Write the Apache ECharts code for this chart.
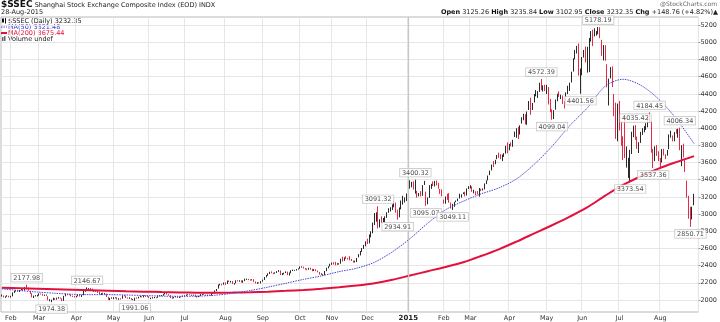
<!DOCTYPE html>
<html><head><meta charset="utf-8">
<script src="https://cdn.jsdelivr.net/npm/echarts@6/dist/echarts.min.js"></script>
<style>html,body{margin:0;padding:0;background:#fff}#c{width:720px;height:322px}</style>
</head><body><div id="c"></div>
<script>
// Trading days per month (categories)
const monthDays = [
 ['2014-01',[24,27,28,29,30]],
 ['2014-02',[7,10,11,12,13,14,17,18,19,20,21,24,25,26,27,28]],
 ['2014-03',[3,4,5,6,7,10,11,12,13,14,17,18,19,20,21,24,25,26,27,28,31]],
 ['2014-04',[1,2,3,4,8,9,10,11,14,15,16,17,18,21,22,23,24,25,28,29,30]],
 ['2014-05',[5,6,7,8,9,12,13,14,15,16,19,20,21,22,23,26,27,28,29,30]],
 ['2014-06',[3,4,5,6,9,10,11,12,13,16,17,18,19,20,23,24,25,26,27,30]],
 ['2014-07',[1,2,3,4,7,8,9,10,11,14,15,16,17,18,21,22,23,24,25,28,29,30,31]],
 ['2014-08',[1,4,5,6,7,8,11,12,13,14,15,18,19,20,21,22,25,26,27,28,29]],
 ['2014-09',[1,2,3,4,5,9,10,11,12,15,16,17,18,19,22,23,24,25,26,29,30]],
 ['2014-10',[8,9,10,13,14,15,16,17,20,21,22,23,24,27,28,29,30,31]],
 ['2014-11',[3,4,5,6,7,10,11,12,13,14,17,18,19,20,21,24,25,26,27,28]],
 ['2014-12',[1,2,3,4,5,8,9,10,11,12,15,16,17,18,19,22,23,24,25,26,29,30,31]],
 ['2015-01',[5,6,7,8,9,12,13,14,15,16,19,20,21,22,23,26,27,28,29,30]],
 ['2015-02',[2,3,4,5,6,9,10,11,12,13,16,17,25,26,27]],
 ['2015-03',[2,3,4,5,6,9,10,11,12,13,16,17,18,19,20,23,24,25,26,27,30,31]],
 ['2015-04',[1,2,3,7,8,9,10,13,14,15,16,17,20,21,22,23,24,27,28,29,30]],
 ['2015-05',[4,5,6,7,8,11,12,13,14,15,18,19,20,21,22,25,26,27,28,29]],
 ['2015-06',[1,2,3,4,5,8,9,10,11,12,15,16,17,18,19,23,24,25,26,29,30]],
 ['2015-07',[1,2,3,6,7,8,9,10,13,14,15,16,17,20,21,22,23,24,27,28,29,30,31]],
 ['2015-08',[3,4,5,6,7,10,11,12,13,14,17,18,19,20,21,24,25,26,27,28]]
];

// Daily candles: [open, close, low, high]
const candles = [
 // 2014-01
 [2051,2054,2040,2062],[2050,2033,2030,2052],[2030,2039,2025,2043],[2041,2050,2038,2056],[2046,2033,2031,2049],
 // 2014-02
 [2033,2044,2028,2048],[2044,2086,2042,2088],[2087,2103,2082,2108],[2104,2110,2098,2115],[2110,2100,2094,2113],[2096,2116,2093,2118],[2117,2135,2113,2138],[2133,2112,2109,2137],[2112,2143,2110,2150],[2146,2139,2124,2177.98],[2136,2113,2109,2145],[2105,2076,2071,2108],[2075,2034,2031,2079],[2030,2047,2023,2051],[2045,2047,2041,2057],[2042,2056,2040,2060],
 // 2014-03
 [2053,2075,2050,2077],[2072,2071,2064,2076],[2070,2053,2050,2072],[2052,2059,2047,2062],[2056,2057,2050,2063],[2043,1999,1996,2044],[1997,2001,1985,2009],[1996,1997,1974.38,2004],[2001,2019,1998,2027],[2014,2004,2000,2019],[2006,2024,2004,2027],[2024,2025,2016,2034],[2024,2021,2014,2029],[2016,1993,1987,2019],[1993,2047,1989,2048],[2046,2066,2042,2075],[2064,2063,2056,2070],[2062,2060,2055,2070],[2058,2046,2043,2063],[2043,2041,2034,2050],[2043,2033,2029,2048],
 // 2014-04
 [2033,2047,2030,2049],[2047,2059,2043,2063],[2060,2043,2040,2063],[2040,2059,2035,2061],[2059,2105,2056,2107],[2102,2109,2095,2115],[2108,2134,2105,2146.67],[2127,2131,2119,2138],[2129,2131,2118,2136],[2128,2105,2103,2133],[2101,2105,2096,2110],[2104,2099,2093,2113],[2094,2098,2085,2101],[2095,2066,2064,2096],[2065,2078,2058,2080],[2078,2072,2068,2085],[2071,2074,2063,2080],[2070,2036,2034,2074],[2033,2004,2000,2037],[2003,2022,1997,2024],[2021,2026,2015,2031],
 // 2014-05
 [2018,2027,2009,2031],[2025,2028,2018,2031],[2026,2010,2006,2030],[2009,2015,2001,2020],[2014,2011,2005,2020],[2015,2052,2015,2054],[2050,2050,2043,2057],[2048,2025,2022,2050],[2024,2024,2016,2030],[2020,2026,2013,2030],[2020,2005,2002,2022],[2004,2008,1998,2011],[2006,2024,1991.06,2026],[2023,2021,2015,2030],[2022,2035,2019,2038],[2036,2041,2032,2046],[2040,2034,2030,2043],[2033,2052,2030,2055],[2050,2040,2036,2052],[2040,2039,2034,2046],
 // 2014-06
 [2039,2025,2022,2043],[2023,2024,2010,2027],[2022,2029,2017,2033],[2030,2030,2021,2035],[2028,2027,2020,2032],[2027,2052,2025,2054],[2049,2051,2043,2056],[2048,2055,2045,2058],[2053,2070,2050,2072],[2068,2087,2065,2090],[2083,2066,2063,2087],[2065,2056,2050,2068],[2054,2024,2021,2056],[2022,2026,2016,2030],[2026,2034,2020,2036],[2033,2039,2030,2044],[2038,2026,2023,2041],[2026,2036,2024,2040],[2035,2036,2030,2041],[2036,2048,2035,2052],
 // 2014-07
 [2047,2050,2043,2054],[2050,2060,2048,2063],[2059,2063,2055,2067],[2062,2059,2055,2066],[2057,2058,2050,2062],[2058,2061,2051,2063],[2060,2039,2037,2063],[2037,2038,2030,2044],[2035,2047,2033,2050],[2047,2066,2045,2068],[2066,2068,2060,2073],[2067,2061,2057,2070],[2060,2055,2050,2063],[2050,2059,2046,2062],[2059,2054,2050,2063],[2052,2076,2051,2078],[2075,2078,2070,2084],[2077,2107,2075,2110],[2105,2127,2102,2128],[2136,2178,2132,2180],[2178,2184,2170,2188],[2183,2182,2170,2188],[2180,2202,2178,2204],
 // 2014-08
 [2196,2186,2176,2205],[2190,2223,2186,2226],[2222,2218,2210,2227],[2215,2216,2203,2222],[2214,2188,2185,2220],[2185,2195,2179,2197],[2197,2227,2194,2229],[2225,2221,2215,2231],[2220,2225,2213,2230],[2223,2207,2203,2228],[2205,2226,2201,2228],[2226,2240,2220,2248],[2240,2245,2233,2249],[2243,2237,2231,2246],[2234,2232,2225,2240],[2232,2240,2228,2242],[2240,2213,2210,2242],[2212,2196,2192,2216],[2196,2203,2188,2207],[2202,2196,2193,2207],[2195,2217,2193,2219],
 // 2014-09
 [2219,2236,2214,2238],[2235,2266,2233,2267],[2266,2289,2263,2290],[2288,2307,2282,2310],[2308,2327,2302,2328],[2328,2318,2311,2333],[2315,2311,2300,2318],[2311,2319,2306,2322],[2319,2332,2314,2336],[2333,2344,2327,2347],[2342,2296,2290,2345],[2293,2308,2289,2313],[2305,2316,2298,2318],[2317,2329,2313,2333],[2328,2290,2288,2330],[2290,2318,2285,2320],[2317,2344,2312,2346],[2344,2345,2337,2353],[2343,2347,2339,2350],[2348,2357,2343,2360],[2358,2364,2353,2368],
 // 2014-10
 [2370,2383,2365,2391],[2383,2389,2377,2391],[2384,2374,2367,2388],[2371,2366,2353,2373],[2364,2359,2345,2366],[2357,2373,2352,2375],[2370,2357,2352,2376],[2356,2341,2334,2363],[2342,2356,2338,2360],[2355,2339,2335,2359],[2341,2326,2322,2343],[2322,2302,2295,2327],[2302,2302,2294,2311],[2301,2290,2279,2303],[2290,2337,2288,2338],[2336,2373,2335,2375],[2373,2391,2368,2393],[2393,2420,2390,2422],
 // 2014-11
 [2420,2430,2410,2435],[2431,2430,2413,2440],[2428,2419,2404,2444],[2418,2425,2411,2428],[2424,2418,2410,2431],[2425,2474,2422,2480],[2480,2470,2449,2503],[2460,2494,2455,2496],[2494,2485,2478,2510],[2482,2478,2471,2491],[2497,2474,2461,2510],[2472,2456,2453,2478],[2453,2450,2435,2458],[2447,2452,2437,2458],[2449,2487,2441,2489],[2498,2532,2496,2534],[2531,2567,2519,2570],[2568,2604,2560,2605],[2610,2630,2594,2641],[2633,2683,2625,2683],
 // 2014-12
 [2690,2680,2651,2713],[2680,2763,2659,2764],[2770,2779,2730,2799],[2782,2900,2776,2901],[2922,2938,2873,3013],[2941,3020,2911,3021],[3034,2856,2834,3091.32],[2848,2940,2844,2940],[2925,2925,2898,2975],[2918,2938,2906,2955],[2925,2953,2903,2974],[2962,3021,2956,3022],[3020,3061,3015,3068],[3057,3058,3030,3080],[3066,3108,3048,3114],[3117,3128,3079,3157],[3124,3032,3016,3133],[3020,2977,2934.91,3052],[2983,3072,2963,3077],[3069,3157,3055,3158],[3163,3168,3110,3213],[3158,3166,3134,3193],[3160,3235,3153,3240],
 // 2015-01
 [3258,3351,3253,3370],[3331,3352,3296,3394],[3327,3374,3312,3375],[3372,3294,3285,3381],[3276,3285,3238,3400.32],[3259,3230,3192,3271],[3223,3236,3207,3245],[3242,3222,3206,3268],[3224,3336,3212,3337],[3343,3376,3339,3386],[3189,3116,3095.07,3262],[3114,3173,3114,3194],[3189,3324,3188,3337],[3327,3343,3293,3352],[3357,3351,3327,3380],[3347,3383,3322,3387],[3381,3352,3334,3390],[3343,3305,3295,3364],[3268,3262,3235,3292],[3277,3210,3207,3288],
 // 2015-02
 [3148,3128,3122,3168],[3143,3204,3121,3205],[3212,3174,3165,3238],[3243,3136,3132,3244],[3134,3076,3065,3135],[3066,3095,3049.11,3119],[3090,3141,3084,3142],[3144,3157,3139,3158],[3160,3173,3150,3181],[3186,3203,3181,3237],[3207,3228,3193,3230],[3236,3247,3233,3253],[3250,3228,3207,3260],[3222,3298,3216,3298],[3296,3310,3290,3325],
 // 2015-03
 [3332,3336,3298,3336],[3317,3263,3260,3323],[3264,3280,3242,3284],[3264,3248,3221,3266],[3249,3241,3229,3268],[3225,3302,3203,3304],[3289,3286,3267,3295],[3286,3291,3275,3299],[3305,3350,3288,3357],[3361,3372,3349,3392],[3391,3449,3391,3449],[3463,3503,3454,3507],[3516,3577,3509,3577],[3590,3582,3548,3617],[3589,3617,3581,3632],[3641,3688,3640,3688],[3694,3691,3654,3716],[3679,3661,3640,3697],[3660,3682,3617,3693],[3681,3691,3666,3710],[3710,3786,3704,3795],[3795,3748,3709,3835],
 // 2015-04
 [3748,3811,3742,3817],[3828,3825,3789,3835],[3803,3863,3784,3865],[3899,3961,3898,3961],[3964,3995,3889,4000],[4013,3957,3874,4016],[3950,4034,3926,4034],[4072,4121,4054,4128],[4118,4135,4093,4168],[4122,4084,4044,4164],[4062,4194,4040,4194],[4262,4287,4212,4317],[4307,4217,4156,4356],[4212,4293,4212,4294],[4304,4398,4300,4398],[4411,4414,4372,4444],[4384,4393,4352,4432],[4423,4527,4423,4529],[4528,4476,4443,4572.39],[4453,4476,4427,4500],[4472,4441,4432,4506],
 // 2015-05
 [4479,4480,4398,4504],[4456,4298,4276,4481],[4312,4229,4187,4340],[4220,4112,4099.04,4221],[4108,4205,4106,4210],[4228,4333,4216,4334],[4332,4401,4314,4401],[4405,4375,4364,4429],[4365,4378,4339,4390],[4364,4308,4281,4381],[4290,4283,4230,4312],[4291,4417,4280,4418],[4420,4446,4397,4494],[4450,4529,4433,4530],[4544,4657,4533,4658],[4661,4813,4660,4814],[4832,4910,4802,4911],[4924,4941,4870,4958],[4943,4620,4612,4987],[4603,4611,4401.56,4695],
 // 2015-06
 [4633,4828,4616,4829],[4845,4910,4822,4911],[4924,4910,4767,4951],[4912,4947,4647,4948],[4970,5023,4654,5051],[5044,5131,5009,5131],[5114,5113,4956,5147],[5086,5106,5069,5164],[5100,5121,5079,5131],[5144,5166,5094,5178.19],[5175,5062,5048,5176],[5005,4887,4843,5029],[4855,4967,4789,4968],[4951,4786,4785,4966],[4689,4478,4476,4744],[4471,4576,4264,4577],[4604,4691,4580,4711],[4680,4527,4479,4720],[4399,4193,4139,4400],[4289,4053,3875,4297],[4006,4277,3848,4287],
 // 2015-07
 [4214,4053,3974,4317],[4058,3913,3795,4080],[3793,3687,3629,3906],[4146,3776,3653,4150],[3654,3728,3541,3787],[3467,3507,3421,3655],[3432,3710,3373.54,3748],[3759,3878,3699,3959],[3962,3970,3895,4030],[3956,3925,3865,4035.42],[3870,3806,3760,3902],[3751,3823,3711,3837],[3835,3958,3829,3958],[3963,3992,3923,4000],[3985,4017,3952,4025],[4002,4026,3980,4058],[4021,4124,4010,4130],[4121,4070,4063,4184.45],[4060,3725,3715,4075],[3664,3663,3537.36,3759],[3683,3789,3617,3789],[3755,3705,3678,3803],[3671,3664,3616,3732],
 // 2015-08
 [3625,3622,3549,3653],[3606,3756,3601,3757],[3727,3695,3683,3760],[3666,3661,3640,3697],[3680,3744,3680,3746],[3769,3928,3755,3928],[3923,3928,3890,3971],[3905,3887,3847,3915],[3868,3955,3848,3955],[3972,3965,3936,3989],[3957,3994,3889,3994],[3987,3748,3743,4006.34],[3655,3794,3558,3802],[3770,3664,3660,3820],[3609,3508,3490,3640],[3373,3210,3191,3389],[3005,2965,2947,3214],[3042,2927,2850.71,3085],[2980,3084,2938,3085],[3125.26,3232.35,3102.95,3235.84]
];

// Moving averages, one reading every 10 trading days
const maStep = 10;
const ma50Samples = [2130,2110,2092,2078,2066,2062,2062,2058,2052,2045,2043,2045,2055,2078,2110,2150,2195,2240,2280,2330,2370,2440,2560,2715,2895,3050,3150,3235,3305,3410,3580,3790,4030,4240,4490,4570,4500,4340,4110,3821];
const ma200Samples = [2143,2138,2132,2126,2120,2114,2108,2102,2097,2092,2088,2085,2084,2086,2090,2097,2106,2117,2130,2147,2168,2195,2235,2285,2335,2385,2440,2512,2590,2680,2775,2870,2970,3080,3215,3340,3440,3530,3605,3675];

// Annotated highs/lows
const noteDates = ['2014-02-20','2014-03-12','2014-04-10','2014-05-21','2014-12-09','2014-12-24','2015-01-09','2015-01-19','2015-02-09','2015-04-28','2015-05-07','2015-05-29','2015-06-12','2015-07-09','2015-07-14','2015-07-24','2015-07-28','2015-08-18','2015-08-26'];
const noteValues = [2177.98,1974.38,2146.67,1991.06,3091.32,2934.91,3400.32,3095.07,3049.11,4572.39,4099.04,4401.56,5178.19,3373.54,4035.42,4184.45,3537.36,4006.34,2850.71];
const noteSides = ['high','low','high','low','high','low','high','low','low','high','low','low','high','low','high','high','low','high','low'];

const yTicks = [2000,2200,2400,2600,2800,3000,3200,3400,3600,3800,4000,4200,4400,4600,4800,5000,5200];
const monthNames = ['Jan','Feb','Mar','Apr','May','Jun','Jul','Aug','Sep','Oct','Nov','Dec'];

// ---- build
const categories = [];
const monthStart = new Set();
monthDays.forEach(([m, ds], mi) => {
  if (mi > 0) monthStart.add(categories.length);
  ds.forEach(d => categories.push(m + '-' + String(d).padStart(2, '0')));
});
const nData = categories.length;
const axisCats = categories.concat([' ', '  ']);

function expand(samples) {
  const arr = new Array(nData).fill(null);
  samples.forEach((v, k) => { const i = k * maStep; if (i < nData) arr[i] = v; });
  return arr;
}
const ma50 = expand(ma50Samples);
const ma200 = expand(ma200Samples);

const isStart = (idx) => monthStart.has(idx);
const FONT = 'DejaVu Sans';

const notes = noteDates.map((d, i) => ({
  value: [d, noteValues[i]],
  label: { position: noteSides[i] === 'high' ? 'top' : 'bottom' }
}));

const chart = echarts.init(document.getElementById('c'), null, { renderer: 'canvas' });
chart.setOption({
  animation: false,
  backgroundColor: '#fff',
  grid: { left: 1, right: 17, top: 17, bottom: 10, show: true, borderColor: '#b8b8b8', borderWidth: 1 },
  xAxis: {
    type: 'category', data: axisCats, boundaryGap: true,
    axisLine: { show: false }, axisTick: { show: false },
    axisLabel: {
      interval: (idx) => isStart(idx), fontSize: 6.5, color: '#333', fontFamily: FONT, margin: 3,
      formatter: (v) => {
        if (!v.trim()) return '';
        const [y, m] = v.split('-');
        if (m === '01') return '{y|' + y + '}';
        return monthNames[+m - 1];
      },
      rich: { y: { fontWeight: 'bold', fontSize: 7, color: '#222', fontFamily: FONT } }
    },
    splitLine: { show: true, interval: (idx) => isStart(idx), lineStyle: { color: '#e6e6e6', width: 1 } }
  },
  yAxis: {
    type: 'value', position: 'right', min: 1860, max: 5295, scale: true,
    axisLine: { show: false },
    axisTick: { show: true, length: 2, customValues: yTicks, lineStyle: { color: '#999' } },
    axisLabel: { customValues: yTicks, formatter: (v) => String(v), fontSize: 6.5, color: '#333', fontFamily: FONT, margin: 2 },
    splitLine: { show: true, lineStyle: { color: '#e6e6e6', width: 1 } }
  },
  series: [
    {
      type: 'candlestick', data: candles, barWidth: 1.1, z: 2,
      itemStyle: { color: '#111', color0: '#e8122f', borderColor: '#111', borderColor0: '#e8122f', borderWidth: 0.9 },
      markLine: {
        silent: true, symbol: 'none', label: { show: false },
        lineStyle: { color: '#c6c6c6', width: 1.2, type: 'solid' },
        data: [{ xAxis: '2015-01-05' }]
      }
    },
    {
      type: 'line', data: ma200, connectNulls: true, showSymbol: false, smooth: 0.3, z: 3,
      lineStyle: { color: '#e3103e', width: 2 }
    },
    {
      type: 'line', data: ma50, connectNulls: true, showSymbol: false, smooth: 0.3, z: 3,
      lineStyle: { color: '#4646d8', width: 1, type: [1.5, 1] }
    },
    {
      type: 'scatter', data: notes, symbolSize: 0, z: 5,
      label: {
        show: true, formatter: (p) => p.value[1].toFixed(2), fontSize: 6.5, fontFamily: FONT, color: '#222',
        backgroundColor: '#fff', borderColor: '#b0b0b0', borderWidth: 0.6, padding: [1, 2, 0, 2], distance: 3
      }
    }
  ],
  graphic: [
    { type: 'text', x: 1, y: 5, style: { text: '{b|$SSEC} Shanghai Stock Exchange Composite Index (EOD) INDX', verticalAlign: 'middle', fontSize: 6.5, fontFamily: FONT, fill: '#222', rich: { b: { fontWeight: 'bold', fontSize: 9, fontFamily: FONT, fill: '#111' } } } },
    { type: 'text', x: 1, y: 12, style: { text: '28-Aug-2015', verticalAlign: 'middle', fontSize: 6.5, fontFamily: FONT, fill: '#222' } },
    { type: 'text', x: 717, y: 4, style: { text: '@StockCharts.com', align: 'right', verticalAlign: 'middle', fontSize: 6, fontFamily: FONT, fill: '#666' } },
    { type: 'text', x: 718, y: 12, style: { text: '{b|Open} 3125.26 {b|High} 3235.84 {b|Low} 3102.95 {b|Close} 3232.35 {b|Chg} +148.76 (+4.82%)\u25B2', align: 'right', verticalAlign: 'middle', fontSize: 6.5, fontFamily: FONT, fill: '#222', rich: { b: { fontWeight: 'bold', fontSize: 6.5, fontFamily: FONT, fill: '#111' } } } },
    // legend
    { type: 'rect', shape: { x: 2, y: 18.5, width: 2, height: 4 }, style: { fill: '#111' } },
    { type: 'line', shape: { x1: 5.5, y1: 18, x2: 5.5, y2: 23.5 }, style: { stroke: '#111', lineWidth: 1 } },
    { type: 'text', x: 8, y: 21, style: { text: '$SSEC (Daily) 3232.35', verticalAlign: 'middle', fontSize: 6.5, fontFamily: FONT, fill: '#222' } },
    { type: 'line', shape: { x1: 1, y1: 27, x2: 7, y2: 27 }, style: { stroke: '#4646d8', lineWidth: 1, lineDash: [1.5, 1] } },
    { type: 'text', x: 8, y: 27, style: { text: 'MA(50) 3821.48', verticalAlign: 'middle', fontSize: 6.5, fontFamily: FONT, fill: '#3a3ac8' } },
    { type: 'line', shape: { x1: 1, y1: 33, x2: 7, y2: 33 }, style: { stroke: '#e3103e', lineWidth: 2 } },
    { type: 'text', x: 8, y: 33, style: { text: 'MA(200) 3675.44', verticalAlign: 'middle', fontSize: 6.5, fontFamily: FONT, fill: '#e3103e' } },
    { type: 'rect', shape: { x: 2, y: 37, width: 1.5, height: 4 }, style: { fill: '#666' } },
    { type: 'rect', shape: { x: 4, y: 36, width: 1.5, height: 5 }, style: { fill: '#666' } },
    { type: 'text', x: 8, y: 39, style: { text: 'Volume undef', verticalAlign: 'middle', fontSize: 6.5, fontFamily: FONT, fill: '#222' } }
  ]
});
</script></body></html>
